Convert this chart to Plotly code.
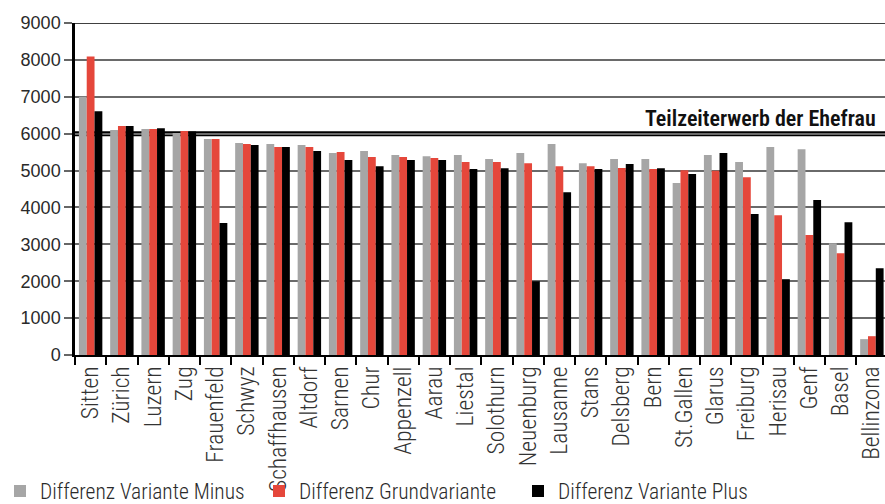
import plotly.graph_objects as go

# Städte (Kantonshauptorte) in der dargestellten Reihenfolge
staedte = ["Sitten", "Zürich", "Luzern", "Zug", "Frauenfeld", "Schwyz", "Schaffhausen",
           "Altdorf", "Sarnen", "Chur", "Appenzell", "Aarau", "Liestal", "Solothurn",
           "Neuenburg", "Lausanne", "Stans", "Delsberg", "Bern", "St.Gallen", "Glarus",
           "Freiburg", "Herisau", "Genf", "Basel", "Bellinzona"]

variante_minus = [7000, 6100, 6125, 6020, 5855, 5745, 5720, 5690, 5475, 5530, 5420, 5390,
                  5420, 5310, 5475, 5720, 5200, 5310, 5310, 4660, 5420, 5230, 5640, 5580,
                  3030, 430]
grundvariante = [8090, 6205, 6125, 6070, 5855, 5720, 5640, 5640, 5500, 5365, 5365, 5340,
                 5230, 5230, 5200, 5120, 5120, 5070, 5040, 5010, 4995, 4820, 3790, 3250,
                 2760, 510]
variante_plus = [6610, 6205, 6150, 6060, 3575, 5690, 5640, 5530, 5285, 5120, 5285, 5285,
                 5040, 5065, 2000, 4415, 5040, 5175, 5065, 4905, 5475, 3820, 2055, 4200,
                 3600, 2355]

y_ticks = [0, 1000, 2000, 3000, 4000, 5000, 6000, 7000, 8000, 9000]
schwelle = 6000
schwelle_text = "Teilzeiterwerb der Ehefrau"

COND = "Roboto Condensed, Liberation Sans Narrow, DejaVu Sans Condensed, sans-serif"
WIDE = "Liberation Sans, Arial, sans-serif"

fig = go.Figure()
for name, werte, farbe in [
    ("Differenz Variante Minus", variante_minus, "#a6a6a6"),
    ("Differenz Grundvariante", grundvariante, "#e5473b"),
    ("Differenz Variante Plus", variante_plus, "#000000"),
]:
    fig.add_trace(go.Bar(x=staedte, y=werte, name=name, marker_color=farbe,
                         marker_line_width=0))

# Referenzlinie bei 6000
fig.add_shape(type="line", xref="paper", x0=0, x1=1, yref="y", y0=schwelle, y1=schwelle,
              line=dict(color="black", width=5), layer="below")
fig.add_annotation(xref="paper", x=1, xanchor="right", xshift=-7,
                   yref="y", y=schwelle, yanchor="bottom", yshift=1,
                   text=schwelle_text, showarrow=False,
                   font=dict(family=COND, size=22, color="#111", weight=600))

# obere Begrenzung bei 9000
fig.add_shape(type="line", xref="paper", x0=0, x1=1, yref="y", y0=9000, y1=9000,
              line=dict(color="black", width=1.5), layer="below")

slot_count = 810 / 31.25
fig.update_layout(
    width=885, height=504,
    margin=dict(l=75, r=0, t=23, b=149, autoexpand=False),
    paper_bgcolor="white", plot_bgcolor="white",
    barmode="group", bargap=0.25, bargroupgap=0,
    font=dict(family=COND, size=18, color="#2a2a2a"),
    showlegend=True,
    legend=dict(orientation="h", xref="container", x=-0.0113, xanchor="left",
                yref="paper", y=-0.41, yanchor="middle", bgcolor="rgba(0,0,0,0)",
                font=dict(family=COND, size=21.5, color="#2a2a2a", weight=300),
                entrywidth=214, entrywidthmode="pixels",
                itemwidth=30, tracegroupgap=0),
    xaxis=dict(range=[-0.5, -0.5 + slot_count], tickangle=-90, ticks="outside",
               tickson="boundaries", ticklen=8, tickcolor="black", tickwidth=1.5,
               showline=True, linecolor="black", linewidth=2, showgrid=False,
               tickfont=dict(family=COND, size=23.5, color="#333", weight=300)),
    yaxis=dict(range=[0, 9000], tickvals=y_ticks, ticks="outside", ticklen=8,
               tickcolor="#666", tickwidth=1.5, showline=True, linecolor="black",
               linewidth=2.5, showgrid=True, gridcolor="#6a6a6a", gridwidth=1.5,
               zeroline=False,
               tickfont=dict(family=WIDE, size=18, color="#2a2a2a")),
)

fig.write_html("out.html")
